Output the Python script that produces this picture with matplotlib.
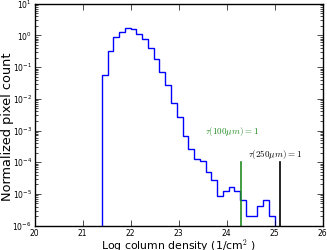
import matplotlib
matplotlib.use("Agg")
import matplotlib.pyplot as plt
import numpy as np

plt.style.use("classic")

bin_start = 21.4
bin_width = 0.12
counts = [0.056, 0.32, 0.91, 1.31, 1.67, 1.58, 1.13, 0.76, 0.39, 0.18,
          0.072, 0.027, 0.0074, 0.0026, 6.9e-4, 2.7e-4, 1.3e-4, 1.07e-4, 5.1e-5, 2.8e-5,
          8.4e-6, 1.26e-5, 1.6e-5, 1.23e-5, 6.6e-6, 2.0e-6, 2.0e-6, 4.1e-6, 6.3e-6, 2.0e-6]
edges = bin_start + bin_width * np.arange(len(counts) + 1)

tau_x = [24.3, 25.1]
tau_top = 1e-4
tau_labels = [r"$\tau(100\mu m)=1$", r"$\tau(250\mu m)=1$"]
tau_colors = ["#228B22", "black"]
label_pos = [(24.1, 1.0e-3), (25.0, 1.9e-4)]

fig = plt.figure(figsize=(3.27, 2.51), dpi=100, facecolor="white")
ax = fig.add_axes([0.106, 0.097, 0.881, 0.884])
ax.set_facecolor("white")

ax.hist(edges[:-1], bins=edges, weights=counts, histtype="step", color="blue", linewidth=1.0)
for x, c in zip(tau_x, tau_colors):
    ax.plot([x, x], [1e-6, tau_top], color=c, linewidth=1.2)
for (x, y), t, c in zip(label_pos, tau_labels, tau_colors):
    ax.text(x, y, t, color=c, fontsize=6.5, ha="center", va="center")

ax.set_yscale("log")
ax.set_xlim(20, 26)
ax.set_ylim(1e-6, 10)
ax.set_xticks([20, 21, 22, 23, 24, 25, 26])
ax.tick_params(labelsize=5.5, direction="in", pad=2)
ax.set_xlabel(r"Log column density (1/cm$^2$ )", fontsize=7.8)
ax.set_ylabel("Normalized pixel count", fontsize=9.3)
ax.xaxis.set_label_coords(0.5, -0.047)
ax.yaxis.set_label_coords(-0.072, 0.45)

fig.savefig("out.png", dpi=100, facecolor="white")
